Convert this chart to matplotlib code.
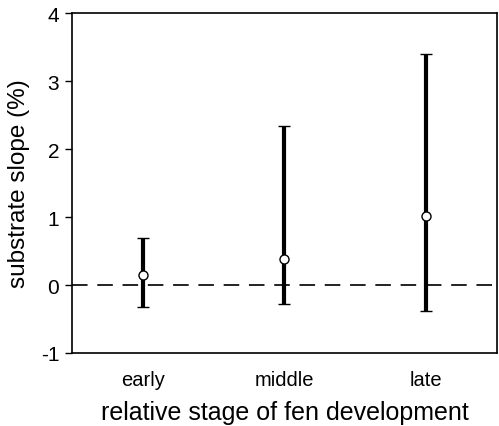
import numpy as np
import matplotlib.pyplot as plt

plt.rcParams['font.family'] = ['Liberation Sans', 'DejaVu Sans']
plt.rcParams['axes.unicode_minus'] = False

stages = ['early', 'middle', 'late']
mean_slope = [0.15, 0.38, 1.01]
upper = [0.69, 2.34, 3.40]
lower = [-0.32, -0.28, -0.38]

x = np.arange(1, len(stages) + 1)
mean_slope = np.array(mean_slope)
err = [mean_slope - np.array(lower), np.array(upper) - mean_slope]

fig = plt.figure(figsize=(4.99, 4.27), dpi=100)
ax = fig.add_axes([0.144, 0.171, 0.852, 0.796])

ax.axhline(0, color='#222222', lw=1.4, ls=(0, (8, 5)), zorder=1)
ax.errorbar(x, mean_slope, yerr=err, fmt='o', color='black', ecolor='black',
            elinewidth=3, capsize=4, capthick=2, markersize=6.5,
            markerfacecolor='white', markeredgecolor='black', markeredgewidth=1, zorder=3)

ax.set_xlim(0.5, 3.5)
ax.set_ylim(-1, 4)
ax.set_yticks([-1, 0, 1, 2, 3, 4])
ax.set_xticks(x)
ax.set_xticklabels(stages, fontsize=14.5)
ax.tick_params(axis='x', length=0, pad=12)
ax.tick_params(axis='y', direction='out', length=5, width=1, labelsize=15, pad=4)
for s in ax.spines.values():
    s.set_linewidth(1.2)

ax.set_ylabel('substrate slope (%)', fontsize=17.5, labelpad=8)
ax.set_xlabel('relative stage of fen development', fontsize=18, labelpad=8)

fig.savefig('out.png', dpi=100)
